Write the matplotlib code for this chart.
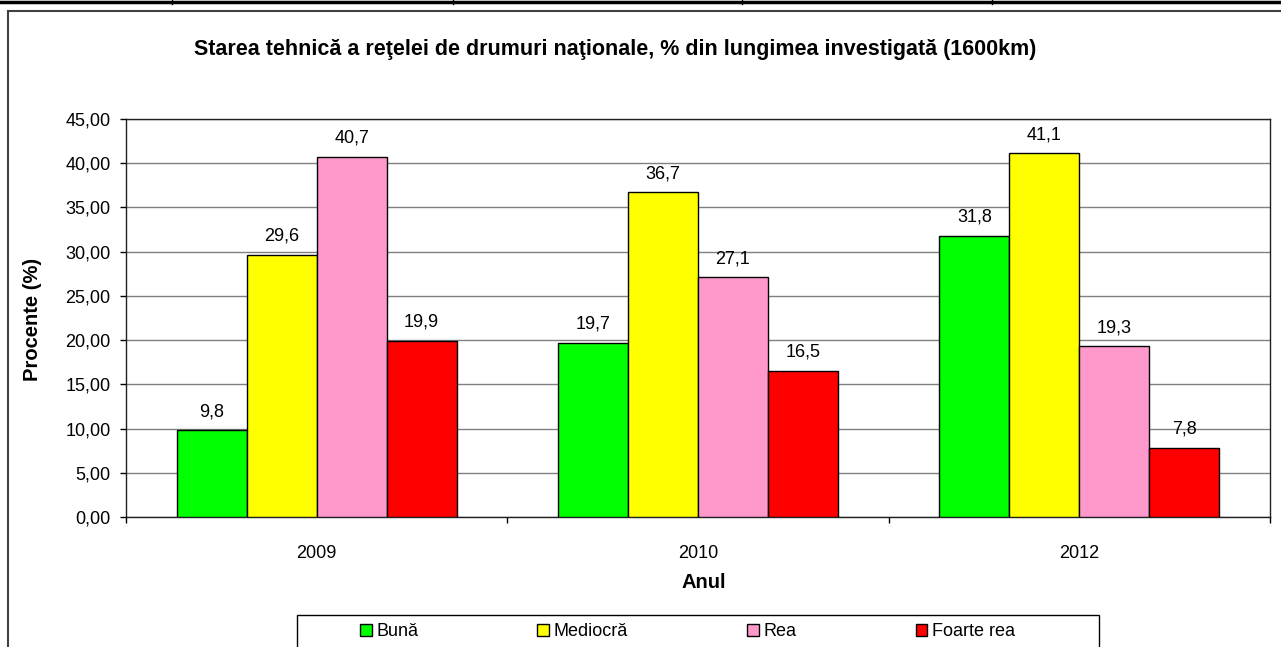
import matplotlib
matplotlib.use("Agg")
import matplotlib.pyplot as plt
from matplotlib.lines import Line2D
from matplotlib.patches import Rectangle
from matplotlib.ticker import FixedLocator, FuncFormatter

plt.rcParams["font.family"] = ["Liberation Sans", "DejaVu Sans"]

YEARS = ["2009", "2010", "2012"]
SERIES = ["Bună", "Mediocră", "Rea", "Foarte rea"]
BUNA = [9.8, 19.7, 31.8]
MEDIOCRA = [29.6, 36.7, 41.1]
REA = [40.7, 27.1, 19.3]
FOARTE_REA = [19.9, 16.5, 7.8]
COLORS = ["#00FF00", "#FFFF00", "#FF99CC", "#FF0000"]

W, H = 1281, 647


def fx(px):
    return px / W


def fy(py):
    return 1 - py / H


def comma(v, digits):
    return f"{v:.{digits}f}".replace(".", ",")


fig = plt.figure(figsize=(W / 100, H / 100), dpi=100)

# page decoration: thick top rule with cell separators, chart frame
fig.add_artist(Line2D([0, 1], [fy(1.5), fy(1.5)], color="black", lw=2.5))
for px in [172, 453, 742, 992]:
    fig.add_artist(Line2D([fx(px), fx(px)], [fy(0), fy(4)], color="black", lw=1))
fig.add_artist(Line2D([fx(8), 1.01], [fy(11), fy(11)], color="#404040", lw=1.5))
fig.add_artist(Line2D([fx(8), fx(8)], [fy(11), -0.01], color="#404040", lw=1.5))

left, right, top, bottom = 126, 1270, 119, 517
ax = fig.add_axes([fx(left), fy(bottom), (right - left) / W, (bottom - top) / H])

values = [BUNA, MEDIOCRA, REA, FOARTE_REA]
width = 0.1835
x = list(range(len(YEARS)))
for i, (name, vals, col) in enumerate(zip(SERIES, values, COLORS)):
    pos = [c + (i - 1.5) * width for c in x]
    ax.bar(pos, vals, width=width, color=col, edgecolor="black", linewidth=1,
           label=name, zorder=3)
    for p, v in zip(pos, vals):
        ax.annotate(comma(v, 1), (p, v), xytext=(0, 13.5), textcoords="offset points",
                    ha="center", va="center", fontsize=13)

ax.set_xlim(-0.5, 2.5)
ax.set_ylim(0, 45)
ax.yaxis.set_major_locator(FixedLocator([i * 5 for i in range(10)]))
ax.yaxis.set_major_formatter(FuncFormatter(lambda v, _: comma(v, 2)))
ax.grid(axis="y", color="#808080", lw=1, zorder=0)
ax.tick_params(axis="y", direction="out", length=4.5, width=1, pad=6.5, labelsize=13)

ax.xaxis.set_major_locator(FixedLocator([-0.5, 0.5, 1.5, 2.5]))
ax.xaxis.set_major_formatter(FuncFormatter(lambda v, _: ""))
ax.xaxis.set_minor_locator(FixedLocator(x))
ax.set_xticks(x, YEARS, minor=True)
ax.tick_params(axis="x", which="major", direction="out", length=4.5, width=1)
ax.tick_params(axis="x", which="minor", length=0, pad=20.5, labelsize=13)

for s in ax.spines.values():
    s.set_color("#202020")
    s.set_linewidth(1)

fig.text(fx(615), fy(50), "Starea tehnică a reţelei de drumuri naţionale, % din lungimea investigată (1600km)",
         ha="center", va="center", fontsize=15.5, fontweight="bold")
fig.text(fx(33), fy(319), "Procente (%)", ha="center", va="center", rotation=90,
         fontsize=14.5, fontweight="bold")
fig.text(fx(704), fy(583), "Anul", ha="center", va="center", fontsize=14.5, fontweight="bold")

# legend box drawn separately, entries laid out inside it
fig.add_artist(Rectangle((fx(297), fy(660)), (1099 - 297) / W, (660 - 615) / H,
                         transform=fig.transFigure, facecolor="white",
                         edgecolor="black", lw=1))
leg = fig.legend(loc="center left", bbox_to_anchor=(fx(360), fy(632)),
                 ncol=4, frameon=False, fontsize=13, handlelength=0.65, handleheight=0.65,
                 handletextpad=0.25, columnspacing=6.6, borderpad=0, borderaxespad=0)

fig.savefig("out.png", dpi=100)
